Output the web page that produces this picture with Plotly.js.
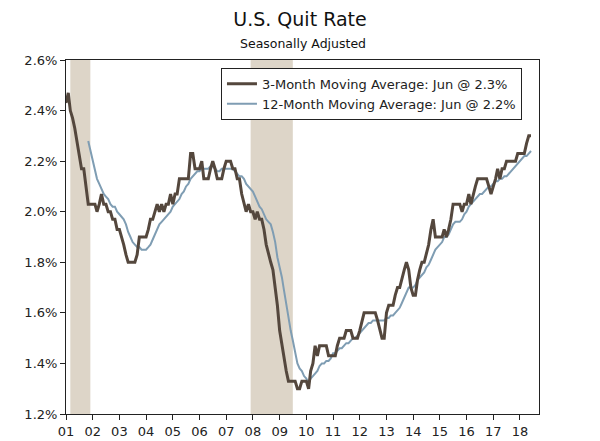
<!DOCTYPE html>
<html>
<head>
<meta charset="utf-8">
<script src="https://cdn.plot.ly/plotly-3.0.1.min.js"></script>
<style>
  body { margin: 0; background: #fff; }
  #plot { width: 600px; height: 441px; }
</style>
</head>
<body>
<div id="plot"></div>
<script>
// monthly 3-month moving average, Jan 2001 - Jun 2018
var threeMonth = [
  2.43, 2.47, 2.40, 2.37, 2.33, 2.27, 2.23, 2.17, 2.17, 2.10, 2.03, 2.03,
  2.03, 2.03, 2.00, 2.03, 2.07, 2.03, 2.03, 2.00, 2.00, 1.97, 1.97, 1.93,
  1.93, 1.90, 1.87, 1.83, 1.80, 1.80, 1.80, 1.80, 1.83, 1.90, 1.90, 1.90,
  1.90, 1.93, 1.97, 1.97, 2.00, 2.03, 2.00, 2.03, 2.00, 2.03, 2.03, 2.07,
  2.03, 2.07, 2.07, 2.13, 2.13, 2.13, 2.13, 2.13, 2.23, 2.23, 2.17, 2.17,
  2.17, 2.20, 2.13, 2.13, 2.13, 2.17, 2.20, 2.17, 2.13, 2.13, 2.13, 2.17,
  2.20, 2.20, 2.20, 2.17, 2.17, 2.13, 2.13, 2.07, 2.03, 2.00, 2.03, 2.00,
  2.00, 1.97, 2.00, 1.97, 1.97, 1.93, 1.87, 1.83, 1.80, 1.77, 1.70, 1.63,
  1.53, 1.47, 1.43, 1.37, 1.33, 1.33, 1.33, 1.33, 1.30, 1.30, 1.33, 1.33,
  1.33, 1.30, 1.37, 1.40, 1.47, 1.43, 1.47, 1.47, 1.47, 1.47, 1.43, 1.43,
  1.43, 1.43, 1.47, 1.50, 1.50, 1.50, 1.53, 1.53, 1.53, 1.50, 1.50, 1.50,
  1.53, 1.57, 1.60, 1.60, 1.60, 1.60, 1.60, 1.60, 1.57, 1.53, 1.50, 1.50,
  1.60, 1.63, 1.63, 1.63, 1.67, 1.70, 1.70, 1.73, 1.77, 1.80, 1.77, 1.70,
  1.67, 1.67, 1.73, 1.77, 1.80, 1.80, 1.83, 1.87, 1.93, 1.97, 1.90, 1.90,
  1.90, 1.90, 1.93, 1.90, 1.93, 1.97, 2.03, 2.03, 2.03, 2.03, 2.00, 2.03,
  2.03, 2.07, 2.03, 2.07, 2.10, 2.13, 2.13, 2.13, 2.13, 2.13, 2.10, 2.07,
  2.10, 2.13, 2.17, 2.13, 2.17, 2.17, 2.20, 2.20, 2.20, 2.20, 2.20, 2.23,
  2.23, 2.23, 2.23, 2.27, 2.30, 2.30
];

// monthly 12-month moving average, Nov 2001 - Jun 2018
var twelveMonth = [
  2.28, 2.24,
  2.20, 2.16, 2.13, 2.11, 2.09, 2.07, 2.06, 2.05, 2.03, 2.02, 2.02, 2.00,
  1.99, 1.98, 1.97, 1.95, 1.92, 1.90, 1.88, 1.87, 1.86, 1.86, 1.85, 1.85,
  1.85, 1.86, 1.87, 1.89, 1.91, 1.93, 1.95, 1.96, 1.97, 1.98, 1.99, 2.00,
  2.02, 2.03, 2.04, 2.05, 2.07, 2.08, 2.10, 2.11, 2.13, 2.14, 2.15, 2.16,
  2.16, 2.17, 2.17, 2.17, 2.17, 2.18, 2.18, 2.17, 2.16, 2.16, 2.17, 2.17,
  2.17, 2.17, 2.17, 2.17, 2.16, 2.15, 2.14, 2.14, 2.13, 2.11, 2.10, 2.09,
  2.08, 2.06, 2.04, 2.02, 2.01, 1.99, 1.97, 1.96, 1.95, 1.92, 1.88, 1.82,
  1.78, 1.74, 1.69, 1.63, 1.58, 1.53, 1.49, 1.45, 1.40, 1.38, 1.37, 1.35,
  1.34, 1.32, 1.34, 1.35, 1.36, 1.37, 1.39, 1.40, 1.40, 1.41, 1.41, 1.42,
  1.44, 1.44, 1.45, 1.46, 1.46, 1.47, 1.48, 1.48, 1.49, 1.50, 1.50, 1.51,
  1.52, 1.53, 1.54, 1.55, 1.56, 1.56, 1.57, 1.57, 1.57, 1.57, 1.57, 1.57,
  1.58, 1.58, 1.59, 1.59, 1.60, 1.61, 1.62, 1.64, 1.66, 1.68, 1.70, 1.70,
  1.70, 1.71, 1.73, 1.74, 1.75, 1.76, 1.78, 1.79, 1.81, 1.83, 1.85, 1.86,
  1.87, 1.88, 1.90, 1.90, 1.91, 1.93, 1.95, 1.96, 1.96, 1.96, 1.97, 1.99,
  2.00, 2.02, 2.03, 2.04, 2.05, 2.06, 2.07, 2.07, 2.08, 2.09, 2.10, 2.10,
  2.11, 2.12, 2.12, 2.13, 2.13, 2.14, 2.14, 2.15, 2.16, 2.17, 2.18, 2.19,
  2.20, 2.21, 2.22, 2.22, 2.23, 2.24
];

var seriesNames = ['3-Month Moving Average: Jun @ 2.3%', '12-Month Moving Average: Jun @ 2.2%'];
var recessionStart = ['2001-03-01', '2007-12-01'];
var recessionEnd = ['2001-11-30', '2009-06-30'];

// build a list of month dates starting at year/month
function monthDates(year, month, n) {
  var out = [];
  for (let i = 0; i < n; i++) {
    var yy = year + Math.floor((month - 1 + i) / 12);
    var mm = (month - 1 + i) % 12 + 1;
    out.push(yy + '-' + (mm < 10 ? '0' : '') + mm + '-01');
  }
  return out;
}

var font = 'Verdana, "DejaVu Sans", sans-serif';
var xRange = ['2001-01-01', '2018-09-18'];

var traceLong = {
  x: monthDates(2001, 11, twelveMonth.length),
  y: twelveMonth,
  name: seriesNames[1],
  type: 'scatter',
  mode: 'lines',
  line: { color: '#7f9db3', width: 2 },
  legendrank: 2
};
var traceShort = {
  x: monthDates(2001, 1, threeMonth.length),
  y: threeMonth,
  name: seriesNames[0],
  type: 'scatter',
  mode: 'lines',
  line: { color: '#54473d', width: 3 },
  legendrank: 1
};

// recession shading
var shapes = [];
for (let i = 0; i < recessionStart.length; i++) {
  shapes.push({
    type: 'rect', xref: 'x', yref: 'paper', layer: 'below',
    x0: recessionStart[i], x1: recessionEnd[i], y0: 0, y1: 1,
    fillcolor: '#ddd5c8', line: { width: 0 }
  });
}

var yCommon = {
  range: [1.2, 2.6], dtick: 0.2, tick0: 1.2,
  tickformat: '.1f', ticksuffix: '%',
  showgrid: false, zeroline: false,
  showline: true, linecolor: '#222', linewidth: 1,
  ticklen: 5, tickcolor: '#222',
  tickfont: { family: font, size: 13, color: '#222' }
};

var layout = {
  width: 600, height: 441,
  margin: { l: 66, r: 61, t: 60, b: 27 },
  paper_bgcolor: '#fff', plot_bgcolor: '#fff',
  font: { family: font, size: 13, color: '#222' },
  title: {
    text: 'U.S. Quit Rate',
    font: { family: font, size: 19, color: '#111' },
    x: 0.5, xanchor: 'center', y: 0.955, yanchor: 'middle'
  },
  annotations: [{
    text: 'Seasonally Adjusted', xref: 'paper', yref: 'paper',
    x: 0.5, y: 1.048, xanchor: 'center', yanchor: 'middle',
    showarrow: false, font: { family: font, size: 12.5, color: '#111' }
  }],
  showlegend: true,
  legend: {
    x: 0.964, xanchor: 'right', y: 0.978, yanchor: 'top',
    bgcolor: '#fff', bordercolor: '#222', borderwidth: 1,
    font: { family: font, size: 13, color: '#222' },
    tracegroupgap: 0, itemwidth: 30
  },
  xaxis: {
    type: 'date', range: xRange,
    tick0: '2001-01-01', dtick: 'M12', tickformat: '%y',
    ticks: 'outside', ticklen: 5, tickcolor: '#222',
    showline: true, linecolor: '#222', linewidth: 1, mirror: true,
    showgrid: false, zeroline: false,
    tickfont: { family: font, size: 13, color: '#222' }
  },
  // inside half of the cross ticks on the bottom axis
  xaxis2: {
    type: 'date', range: xRange, overlaying: 'x', side: 'bottom',
    tick0: '2001-01-01', dtick: 'M12', ticks: 'inside', ticklen: 5,
    tickcolor: '#222', showticklabels: false, showgrid: false, zeroline: false
  },
  yaxis: Object.assign({}, yCommon, { side: 'left', ticks: 'outside', mirror: true }),
  yaxis2: Object.assign({}, yCommon, { side: 'right', overlaying: 'y', ticks: 'outside' }),
  yaxis3: Object.assign({}, yCommon, { side: 'left', overlaying: 'y', ticks: 'inside', showticklabels: false }),
  yaxis4: Object.assign({}, yCommon, { side: 'right', overlaying: 'y', ticks: 'inside', showticklabels: false }),
  shapes: shapes
};

var data = [traceLong, traceShort];
Plotly.newPlot('plot', data, layout, { displayModeBar: false, staticPlot: true });
</script>
</body>
</html>
